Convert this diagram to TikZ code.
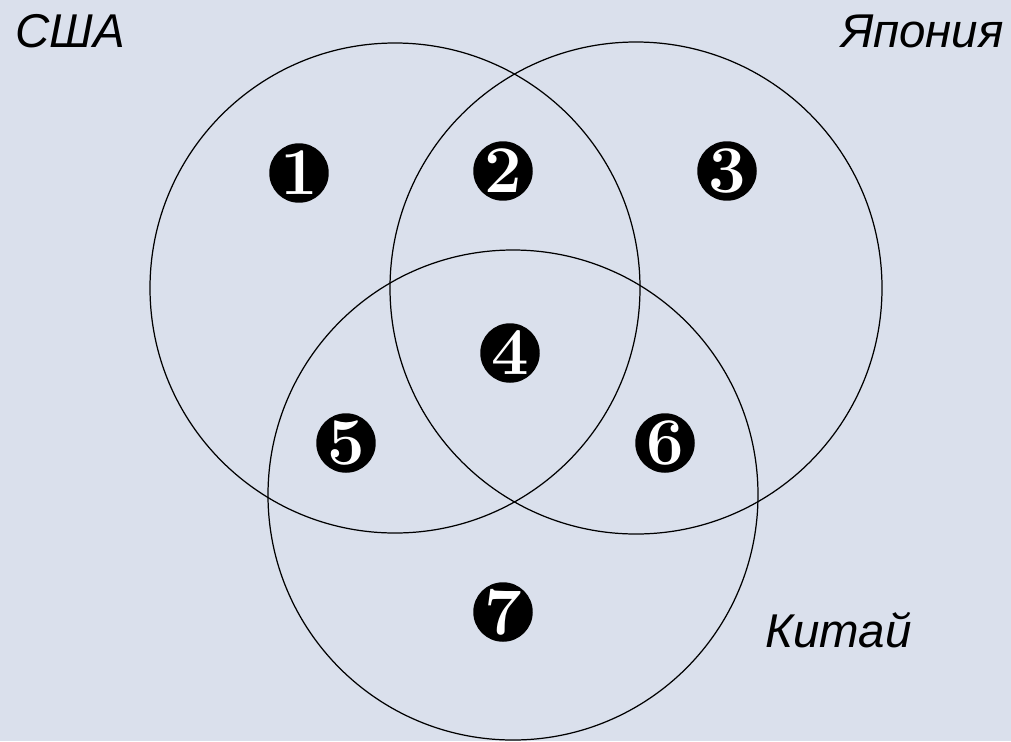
\documentclass[tikz,border=0pt]{standalone}
\usepackage{fontspec}
\newfontfamily\labfont{Liberation Sans}
\usetikzlibrary{positioning}
\definecolor{cFondo}{HTML}{DAE0EC}
\tikzset{
    venn/.style={draw=black, line width=0.7pt},
    num/.style={circle, fill=black, text=white, minimum size=1.19cm, inner sep=0pt,
                font=\fontsize{38}{38}\selectfont\bfseries},
    pais/.style={font=\labfont\itshape\fontsize{27}{27}\selectfont, inner sep=0pt},
}
\begin{document}
\begin{tikzpicture}[x=0.02cm, y=-0.02cm]

\fill[cFondo] (0,0) rectangle (1011,741);
\useasboundingbox (0,0) rectangle (1011,741);

% los tres conjuntos
\draw[venn] (395,288) circle[radius=245];
\draw[venn] (636,288) circle[radius=246];
\draw[venn] (513,495) circle[radius=245];

\node[pais, anchor=west] (usa) at (15,31) {США};
\node[pais, anchor=east] (jap) at (1004,31) {Япония};
\node[pais, anchor=west] (chi) at (765,630) {Китай};

\foreach \nm/\xx/\yy in {1/299/173, 2/503/171, 3/727/171, 4/510/353,
                         5/346/443, 6/665/443, 7/503/612}{%
    \node[num] (n\nm) at (\xx,\yy) {\nm};
}

\end{tikzpicture}
\end{document}
